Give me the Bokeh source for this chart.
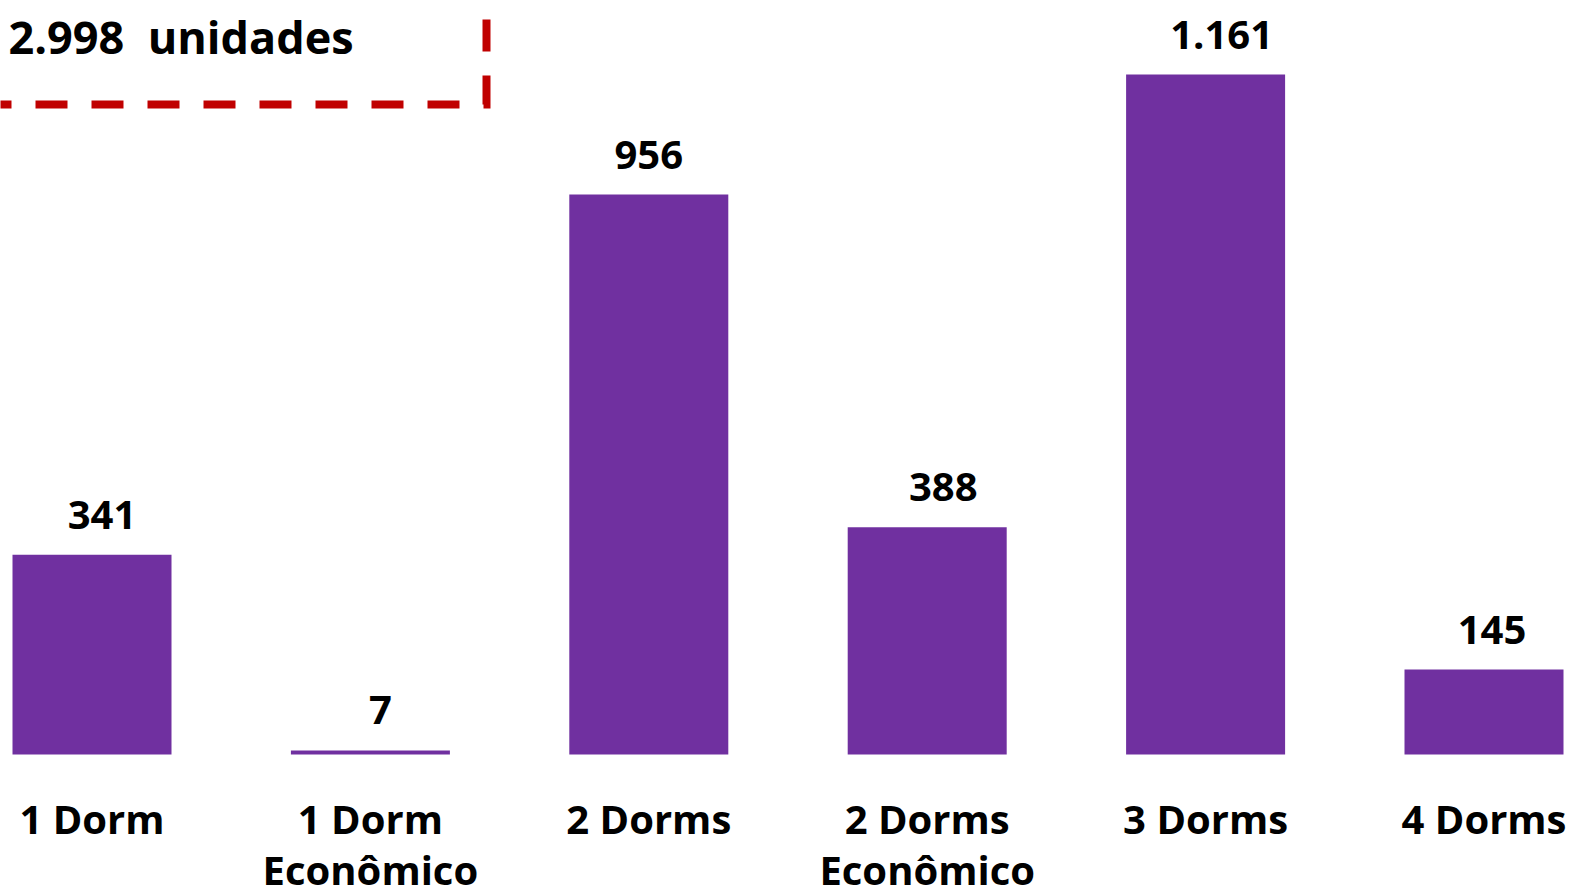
from bokeh.plotting import figure
from bokeh.models import Range1d, ColumnDataSource
from bokeh.core.properties import value
from bokeh.embed import file_html
from bokeh.resources import INLINE

# ---- data ----
categories = ["1 Dorm", "1 Dorm\nEconômico", "2 Dorms", "2 Dorms\nEconômico", "3 Dorms", "4 Dorms"]
units = [341, 7, 956, 388, 1161, 145]
unit_labels = ["341", "7", "956", "388", "1.161", "145"]
total_label = "2.998\u00a0 unidades"

# ---- layout helpers (reference pixel -> data) ----
W, H = 1574, 896
PX_X0, PX_DX = -47.7, 278.4     # pixel x of data 0, pixels per category
PX_Y0, PX_DY = 754.0, 0.5857    # baseline pixel y, pixels per unit
TXT = 15                         # rendered baseline sits this far below requested y


def dx(X):
    return (X - PX_X0) / PX_DX


def dy(Y):
    return (PX_Y0 - Y) / PX_DY


label_dx = [10, 10, 0, 16, 16, 8]  # small horizontal nudges of value labels (px)

FONT = value("Open Sans")
BAR = "#7030A0"

p = figure(width=W, height=H, output_backend="svg", toolbar_location=None,
           x_range=Range1d(dx(0), dx(W)), y_range=Range1d(dy(H), dy(0)),
           min_border=0, min_border_left=0, min_border_right=0,
           min_border_top=0, min_border_bottom=0)
p.axis.visible = False
p.grid.visible = False
p.outline_line_color = None
p.background_fill_color = "white"
p.border_fill_color = "white"

xs = [i + 0.5 for i in range(len(categories))]
src = ColumnDataSource(dict(x=xs, top=units))
p.vbar(x="x", top="top", bottom=0, width=159 / PX_DX, source=src,
       fill_color=BAR, line_color=None)

# value labels
gap = (25 + TXT) / PX_DY
p.text(x=[x + d / PX_DX for x, d in zip(xs, label_dx)],
       y=[v + gap for v in units], text=unit_labels,
       text_font=FONT, text_font_style="bold", text_font_size="40px",
       text_align="center", text_baseline="alphabetic", text_color="black")

# category labels (two lines where needed)
line1 = [c.split("\n")[0] for c in categories]
l2x = [x for x, c in zip(xs, categories) if "\n" in c]
l2t = [c.split("\n")[1] for c in categories if "\n" in c]
p.text(x=xs, y=[dy(833 - TXT)] * len(xs), text=line1,
       text_font=FONT, text_font_style="bold", text_font_size="40px",
       text_align="center", text_baseline="alphabetic", text_color="black")
p.text(x=l2x, y=[dy(884 - TXT)] * len(l2x), text=l2t,
       text_font=FONT, text_font_style="bold", text_font_size="40px",
       text_align="center", text_baseline="alphabetic", text_color="black")

# total annotation with dashed box
p.text(x=[dx(8)], y=[dy(51 - TXT)], text=[total_label],
       text_font=FONT, text_font_style="bold", text_font_size="45px",
       text_align="left", text_baseline="alphabetic", text_color="black")
p.line(x=[dx(486), dx(486), dx(-10)], y=[dy(-37), dy(104), dy(104)],
       line_color="#C00000", line_width=8, line_dash="32 24",
       line_cap="butt", line_join="miter")

open("out.html", "w").write(file_html(p, INLINE))
